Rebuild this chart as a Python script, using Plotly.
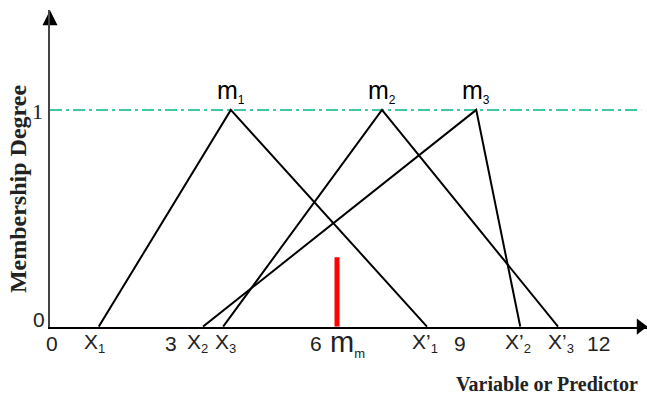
import plotly.graph_objects as go

# schematic x units: 0 at the vertical axis, the red m_m marker sits at 6
tri_left = [1.02, 3.62, 3.20]     # X1, X3, X2
tri_peak = [3.78, 6.94, 8.91]     # m1, m2, m3
tri_right = [7.88, 10.62, 9.83]   # X'1, X'3, X'2
peak_names = ["1", "2", "3"]
mm_x = 6.0
mm_height = 0.32

num_text = ["0", "3", "6", "9", "12"]
num_pos = [0.04, 2.53, 5.56, 8.57, 11.46]
x_base = ["X", "X", "X", "X’", "X’", "X’"]
x_sub = ["1", "2", "3", "1", "2", "3"]
x_pos = [0.94, 3.09, 3.66, 7.84, 9.78, 10.68]
mm_label_pos = 6.21

X_MAX = 12.48
Y_MIN = -0.002
Y_MAX = 1.461
SANS = "Liberation Sans, Arial, sans-serif"
SERIF = "Liberation Serif, Times New Roman, serif"


def sub(base, s, size):
    return f"{base}<sub><span style='font-size:{size}px'>{s}</span></sub>"


fig = go.Figure()

# dash-dot level line at membership 1
fig.add_trace(go.Scatter(x=[0, 12.36], y=[1, 1], mode="lines",
                         line=dict(color="#00b58c", width=1.5, dash="12px,4px,3px,4px"),
                         hoverinfo="skip"))

# triangular membership functions
for l, p, r in zip(tri_left, tri_peak, tri_right):
    fig.add_trace(go.Scatter(x=[l, p, r], y=[0, 1, 0], mode="lines",
                             line=dict(color="black", width=2), hoverinfo="skip"))

# red m_m marker
fig.add_trace(go.Scatter(x=[mm_x, mm_x], y=[0, mm_height], mode="lines",
                         line=dict(color="#ff0000", width=5), hoverinfo="skip"))

# axis arrowheads
fig.add_trace(go.Scatter(x=[12.34], y=[0], mode="markers", cliponaxis=False,
                         marker=dict(symbol="triangle-right", size=14, color="black"),
                         hoverinfo="skip"))
fig.add_trace(go.Scatter(x=[0], y=[Y_MAX - 0.001], mode="markers", cliponaxis=False,
                         marker=dict(symbol="arrow-up", size=15, color="black",
                                     line=dict(width=0)),
                         hoverinfo="skip"))

ann = []
for n, p in zip(peak_names, tri_peak):
    ann.append(dict(x=p, y=1, xref="x", yref="y", text=sub("m", n, 12), showarrow=False,
                    xanchor="center", yanchor="bottom", yshift=1,
                    font=dict(family=SANS, size=25, color="black")))
for t, p in zip(num_text, num_pos):
    ann.append(dict(x=p, y=0, xref="x", yref="paper", text=t, showarrow=False,
                    xanchor="center", yanchor="middle", yshift=-16,
                    font=dict(family=SANS, size=21, color="#222")))
for b, s, p in zip(x_base, x_sub, x_pos):
    ann.append(dict(x=p, y=0, xref="x", yref="paper", text=sub(b, s, 13), showarrow=False,
                    xanchor="center", yanchor="middle", yshift=-16,
                    font=dict(family=SANS, size=21, color="#222")))
ann.append(dict(x=mm_label_pos, y=0, xref="x", yref="paper", text=sub("m", "m", 13),
                showarrow=False, xanchor="center", yanchor="middle", yshift=-16,
                font=dict(family=SANS, size=29, color="#222")))

# y-axis values
ann.append(dict(x=0, y=1, xref="paper", yref="y", text="1", showarrow=False,
                xanchor="center", xshift=-13, yshift=-2,
                font=dict(family=SERIF, size=22, color="#222")))
ann.append(dict(x=0, y=0, xref="paper", yref="y", text="0", showarrow=False,
                xanchor="center", xshift=-11, yshift=7,
                font=dict(family=SANS, size=21, color="#222")))

# axis titles
ann.append(dict(x=0.8325, y=0, xref="paper", yref="paper", text="<b>Variable or Predictor</b>",
                showarrow=False, xanchor="center", yanchor="middle", yshift=-57,
                font=dict(family=SERIF, size=20, color="#222")))
ann.append(dict(x=0, y=0.435, xref="paper", yref="paper", text="<b>Membership Degree</b>",
                showarrow=False, textangle=-90, xanchor="center", yanchor="middle", xshift=-32,
                font=dict(family=SERIF, size=24, color="#222")))

fig.update_xaxes(range=[0, X_MAX], showline=True, linecolor="black", linewidth=2,
                 showgrid=False, zeroline=False, showticklabels=False, ticks="")
fig.update_yaxes(range=[Y_MIN, Y_MAX], showline=True, linecolor="#444", linewidth=2,
                 showgrid=False, zeroline=False, showticklabels=False, ticks="")

fig.update_layout(
    width=647, height=394,
    margin=dict(l=50, r=0, t=10, b=67),
    plot_bgcolor="white", paper_bgcolor="white",
    showlegend=False,
    annotations=ann,
)

# drop the default page margin so the figure fills the window exactly
fig.write_html("out.html", config={"displayModeBar": False},
               post_script="document.body.style.margin='0';document.body.style.overflow='hidden';")
